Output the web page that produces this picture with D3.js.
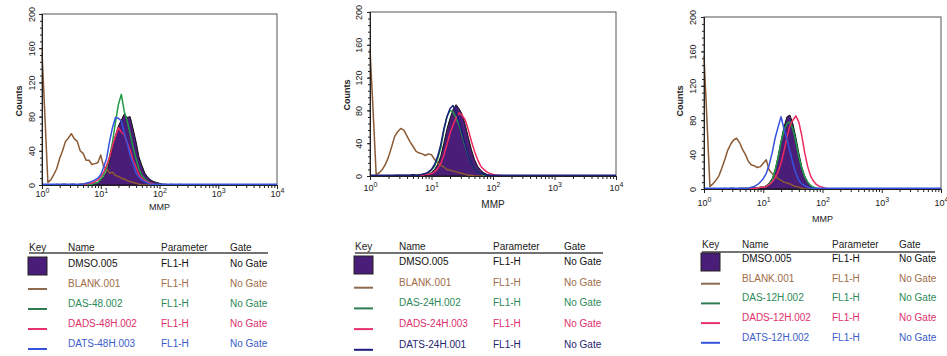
<!DOCTYPE html>
<meta charset="utf-8">
<html>

<head>
  <!-- D3 library -->
  <script src="https://d3js.org/d3.v7.min.js"></script>

  <style>
    body {
      margin: 0;
      background-color: #ffffff;
    }

    svg {
      font-family: 'Liberation Sans', Arial, sans-serif;
    }

    .axis path {
      stroke: #222;
      stroke-width: 1;
    }

    .axis line {
      stroke: #222;
      stroke-width: 1;
    }

    .axis text {
      fill: #222;
      font-size: 9px;
    }

    .legend text {
      font-size: 10px;
    }
  </style>
</head>

<body>
  <script>
    //Channels in decades (log10 of fluorescence), shared by all histograms
    var channels = [0.00, 0.05, 0.10, 0.15, 0.20, 0.25, 0.30, 0.35, 0.40, 0.45,
      0.50, 0.55, 0.60, 0.65, 0.70, 0.75, 0.80, 0.85, 0.90, 0.95,
      1.00, 1.05, 1.10, 1.15, 1.20, 1.25, 1.30, 1.35, 1.40, 1.45,
      1.50, 1.55, 1.60, 1.65, 1.70, 1.75, 1.80, 1.85, 1.90, 1.95,
      2.00, 2.05, 2.10, 2.15, 2.20, 2.25, 2.30, 2.35, 2.40, 2.45,
      2.50, 4.00];

    //Tick labels
    var xTicks = [1, 10, 100, 1000, 10000];
    var xExp = ["0", "1", "2", "3", "4"];
    var yTicks = [0, 40, 80, 120, 160, 200];

    //Legend text
    var legendHeaders = ["Key", "Name", "Parameter", "Gate"];
    var parameter = "FL1-H";
    var gate = "No Gate";
    var names48 = ["DMSO.005", "BLANK.001", "DAS-48.002", "DADS-48H.002", "DATS-48H.003"];
    var names24 = ["DMSO.005", "BLANK.001", "DAS-24H.002", "DADS-24H.003", "DATS-24H.001"];
    var names12 = ["DMSO.005", "BLANK.001", "DAS-12H.002", "DADS-12H.002", "DATS-12H.002"];

    //48H counts
    var dmso48 = [0, 0, 0, 0, 0, 1, 0, 1, 1, 0,
      1, 1, 0, 1, 1, 2, 1, 2, 2, 3,
      5, 9, 15, 28, 44, 58, 69, 76, 83, 79,
      80, 66, 51, 33, 23, 14, 9, 6, 4, 3,
      2, 1, 1, 0, 1, 0, 0, 1, 0, 0,
      0, 0];
    var blank48 = [155, 80, 3, 6, 12, 19, 31, 40, 51, 55,
      60, 54, 51, 40, 37, 29, 29, 24, 25, 26,
      35, 21, 19, 14, 15, 11, 10, 8, 7, 5,
      4, 3, 2, 1, 0, 0, 0, 0, 0, 0,
      0, 0, 0, 0, 0, 0, 0, 0, 0, 0,
      0, 0];
    var das48 = [0, 0, 0, 0, 0, 0, 0, 0, 0, 0,
      0, 0, 0, 0, 0, 1, 1, 1, 2, 3,
      7, 12, 20, 33, 50, 73, 94, 106, 86, 75,
      60, 44, 31, 19, 11, 7, 4, 2, 1, 0,
      0, 0, 0, 0, 0, 0, 0, 0, 0, 0,
      0, 0];
    var dads48 = [0, 0, 0, 0, 0, 0, 0, 0, 0, 0,
      0, 0, 0, 1, 1, 1, 2, 2, 4, 6,
      10, 15, 23, 32, 46, 57, 67, 62, 59, 49,
      41, 29, 21, 12, 8, 5, 3, 2, 1, 0,
      0, 0, 0, 0, 0, 0, 0, 0, 0, 0,
      0, 0];
    var dats48 = [1, 1, 1, 1, 1, 1, 1, 1, 1, 1,
      1, 1, 1, 1, 1, 2, 3, 4, 6, 8,
      12, 21, 31, 51, 67, 79, 78, 75, 61, 49,
      35, 25, 14, 9, 6, 4, 2, 1, 1, 1,
      1, 1, 1, 1, 1, 1, 1, 1, 1, 1,
      1, 1];

    //24H counts
    var dmso24 = [0, 0, 0, 0, 0, 0, 1, 0, 1, 1,
      1, 1, 1, 1, 2, 1, 2, 2, 3, 3,
      4, 8, 14, 24, 40, 57, 70, 81, 87, 82,
      75, 62, 47, 32, 20, 12, 7, 4, 2, 1,
      1, 0, 0, 0, 0, 0, 0, 0, 0, 0,
      0, 0];
    var blank24 = [155, 80, 2, 4, 8, 14, 23, 35, 48, 54,
      58, 56, 49, 42, 36, 30, 28, 27, 25, 27,
      26, 20, 16, 13, 11, 8, 7, 6, 5, 4,
      3, 2, 1, 1, 0, 0, 0, 0, 0, 0,
      0, 0, 0, 0, 0, 0, 0, 0, 0, 0,
      0, 0];
    var das24 = [0, 0, 0, 0, 0, 0, 0, 0, 0, 0,
      0, 0, 0, 0, 0, 1, 1, 2, 2, 4,
      7, 12, 21, 34, 55, 72, 80, 78, 71, 62,
      49, 36, 24, 15, 9, 5, 3, 1, 0, 0,
      0, 0, 0, 0, 0, 0, 0, 0, 0, 0,
      0, 0];
    var dads24 = [0, 0, 0, 0, 0, 0, 0, 0, 0, 0,
      0, 0, 0, 0, 0, 0, 1, 1, 2, 2,
      3, 5, 9, 15, 25, 38, 52, 62, 71, 77,
      74, 68, 56, 42, 30, 20, 12, 8, 5, 3,
      2, 1, 1, 0, 0, 0, 0, 0, 0, 0,
      0, 0];
    var dats24 = [1, 1, 1, 1, 1, 1, 1, 1, 1, 1,
      1, 1, 1, 1, 1, 1, 1, 2, 3, 5,
      8, 14, 24, 38, 57, 72, 82, 86, 78, 66,
      52, 38, 25, 15, 9, 5, 3, 2, 1, 1,
      1, 1, 1, 1, 1, 1, 1, 1, 1, 1,
      1, 1];

    //12H counts
    var dmso12 = [0, 0, 0, 0, 0, 0, 0, 1, 0, 1,
      1, 0, 1, 1, 1, 1, 1, 2, 1, 2,
      2, 4, 7, 12, 22, 38, 56, 72, 84, 86,
      76, 60, 42, 26, 15, 8, 4, 2, 1, 0,
      0, 0, 0, 0, 0, 0, 0, 0, 0, 0,
      0, 0];
    var blank12 = [155, 80, 3, 6, 10, 15, 24, 34, 45, 52,
      57, 59, 54, 46, 40, 32, 28, 27, 25, 26,
      30, 34, 22, 18, 15, 12, 10, 8, 7, 6,
      4, 3, 2, 1, 0, 0, 0, 0, 0, 0,
      0, 0, 0, 0, 0, 0, 0, 0, 0, 0,
      0, 0];
    var das12 = [0, 0, 0, 0, 0, 0, 0, 0, 0, 0,
      0, 0, 0, 0, 0, 0, 0, 1, 1, 2,
      2, 3, 6, 10, 22, 36, 55, 68, 76, 78,
      70, 55, 38, 24, 14, 8, 4, 2, 1, 0,
      0, 0, 0, 0, 0, 0, 0, 0, 0, 0,
      0, 0];
    var dads12 = [0, 0, 0, 0, 0, 0, 0, 0, 0, 0,
      0, 0, 0, 0, 0, 0, 1, 1, 1, 2,
      2, 3, 5, 8, 13, 20, 30, 44, 60, 74,
      80, 85, 78, 62, 42, 26, 15, 9, 5, 3,
      2, 1, 0, 0, 0, 0, 0, 0, 0, 0,
      0, 0];
    var dats12 = [1, 1, 1, 1, 1, 1, 1, 1, 1, 1,
      1, 1, 1, 1, 1, 1, 2, 3, 5, 8,
      12, 18, 28, 42, 59, 72, 84, 70, 58, 44,
      30, 18, 10, 6, 4, 2, 1, 1, 1, 1,
      1, 1, 1, 1, 1, 1, 1, 1, 1, 1,
      1, 1];

    //Colours: fill, brown, green, red, blue
    var fillColor = "#4a1e78";
    var lineColors = ["#111111", "#8b5a34", "#1f9a46", "#ee2a60", "#3552de"];
    var textColors = ["#111111", "#a06c48", "#2c8a58", "#e0306c", "#3a5cc8"];
    var keyColors = ["#111111", "#8e6a4e", "#2e7d52", "#e8306a", "#3555c8"];

    //Panel layout
    var panels = [
      {
        left: 42, right: 277, top: 14, bottom: 185, xLab: 12, mmpY: 210, mmpSize: 9,
        countsX: 22, countsY: 101, yLab: -7,
        series: [dmso48, blank48, das48, dads48, dats48], names: names48, blue: "#3552de", blueText: "#3a5cc8",
        lg: { key: 29, name: 68, param: 161, gate: 230, head: 251, rule: 253, ruleEnd: 268, row0: 267, step: 20, sq: 257 }
      },
      {
        left: 370, right: 616, top: 12, bottom: 176, xLab: 15, mmpY: 208, mmpSize: 10,
        countsX: 350, countsY: 95, yLab: -8,
        series: [dmso24, blank24, das24, dads24, dats24], names: names24, blue: "#1c1c7a", blueText: "#25256e",
        lg: { key: 355, name: 399, param: 493, gate: 564, head: 250, rule: 253, ruleEnd: 603, row0: 265, step: 20.7, sq: 256 }
      },
      {
        left: 704, right: 941, top: 17, bottom: 189, xLab: 17, mmpY: 222, mmpSize: 9,
        countsX: 683, countsY: 101, yLab: -8,
        series: [dmso12, blank12, das12, dads12, dats12], names: names12, blue: "#3552de", blueText: "#3a5cc8",
        lg: { key: 702, name: 742, param: 832, gate: 899, head: 248, rule: 252, ruleEnd: 935, row0: 262, step: 19.7, sq: 253 }
      }
    ];

    //Container
    var svg = d3.select("body")
      .append("svg")
      .attr("width", 947)
      .attr("height", 356);

    //Minor log ticks
    var minorX = [];
    xTicks.slice(0, 4).forEach(function (t) {
      for (var k = 2; k < 10; k++) minorX.push(t * k);
    });

    function drawPanel(p) {
      var g = svg.append("g");

      var x = d3.scaleLog()
        .domain([1, 10000])
        .range([p.left, p.right]);

      var y = d3.scaleLinear()
        .domain([0, 200])
        .range([p.bottom, p.top]);

      //Frame
      g.append("rect")
        .attr("x", p.left)
        .attr("y", p.top)
        .attr("width", p.right - p.left)
        .attr("height", p.bottom - p.top)
        .attr("fill", "none")
        .attr("stroke", "#555")
        .attr("stroke-width", 1);

      var lineGen = d3.line()
        .x((d, i) => x(Math.pow(10, channels[i])))
        .y(d => y(d));

      //DMSO filled histogram
      g.append("path")
        .attr("d", d3.area()
          .x((d, i) => x(Math.pow(10, channels[i])))
          .y0(y(0))
          .y1(d => y(d))(p.series[0]))
        .attr("fill", fillColor)
        .attr("stroke", lineColors[0])
        .attr("stroke-width", 1);

      //Overlay histograms
      var colors = [lineColors[0], lineColors[1], lineColors[2], lineColors[3], p.blue];
      for (var s = 1; s < 5; s++) {
        g.append("path")
          .attr("d", lineGen(p.series[s]))
          .attr("fill", "none")
          .attr("stroke", colors[s])
          .attr("stroke-width", 1.5)
          .attr("stroke-linejoin", "round");
      }

      //X axis (minor)
      g.append("g")
        .attr("class", "axis")
        .attr("transform", `translate(0, ${p.bottom})`)
        .call(d3.axisBottom(x)
          .tickValues(minorX)
          .tickSize(3)
          .tickFormat(""));

      //X axis (major)
      var xa = g.append("g")
        .attr("class", "axis")
        .attr("transform", `translate(0, ${p.bottom})`)
        .call(d3.axisBottom(x)
          .tickValues(xTicks)
          .tickSize(4)
          .tickFormat(""));

      xa.selectAll(".tick text").remove();
      xa.selectAll(".tick").each(function (d, i) {
        var t = d3.select(this).append("text")
          .attr("y", p.xLab)
          .attr("text-anchor", "middle")
          .attr("fill", "#222");
        t.append("tspan").text("10");
        t.append("tspan")
          .attr("dy", -4)
          .attr("font-size", "7px")
          .text(xExp[i]);
      });

      //Y axis (minor)
      g.append("g")
        .attr("class", "axis")
        .attr("transform", `translate(${p.left}, 0)`)
        .call(d3.axisLeft(y)
          .tickValues(d3.range(0, 201, 8))
          .tickSize(2)
          .tickFormat(""));

      //Y axis (major)
      var ya = g.append("g")
        .attr("class", "axis")
        .attr("transform", `translate(${p.left}, 0)`)
        .call(d3.axisLeft(y)
          .tickValues(yTicks)
          .tickSize(3));

      ya.selectAll(".tick text")
        .attr("x", 0)
        .attr("dy", 0)
        .attr("text-anchor", "middle")
        .attr("transform", `translate(${p.yLab}, 0) rotate(-90)`);

      //Axis titles
      g.append("text")
        .attr("x", (p.left + p.right) / 2)
        .attr("y", p.mmpY)
        .attr("text-anchor", "middle")
        .attr("font-size", p.mmpSize + "px")
        .attr("fill", "#222")
        .text("MMP");

      g.append("text")
        .attr("transform", `translate(${p.countsX}, ${p.countsY}) rotate(-90)`)
        .attr("text-anchor", "middle")
        .attr("font-size", "9px")
        .attr("font-weight", "bold")
        .attr("fill", "#222")
        .text("Counts");

      //Legend
      var lg = g.append("g").attr("class", "legend");
      var cols = [p.lg.key, p.lg.name, p.lg.param, p.lg.gate];
      legendHeaders.forEach(function (h, i) {
        lg.append("text")
          .attr("x", cols[i])
          .attr("y", p.lg.head)
          .attr("fill", "#222")
          .text(h);
      });

      lg.append("line")
        .attr("x1", p.lg.key)
        .attr("x2", p.lg.ruleEnd)
        .attr("y1", p.lg.rule)
        .attr("y2", p.lg.rule)
        .attr("stroke", "#444")
        .attr("stroke-width", 1.5);

      var tColors = [textColors[0], textColors[1], textColors[2], textColors[3], p.blueText];
      var kColors = [keyColors[0], keyColors[1], keyColors[2], keyColors[3], p.blue];
      p.names.forEach(function (n, i) {
        var yy = p.lg.row0 + i * p.lg.step;
        if (i === 0) {
          lg.append("rect")
            .attr("x", p.lg.key - 1)
            .attr("y", p.lg.sq)
            .attr("width", 19)
            .attr("height", 18)
            .attr("fill", fillColor)
            .attr("stroke", "#222")
            .attr("stroke-width", 1);
        } else {
          lg.append("line")
            .attr("x1", p.lg.key - 1)
            .attr("x2", p.lg.key + 18)
            .attr("y1", yy + 2)
            .attr("y2", yy + 2)
            .attr("stroke", kColors[i])
            .attr("stroke-width", 2);
        }
        [n, parameter, gate].forEach(function (v, j) {
          lg.append("text")
            .attr("x", cols[j + 1])
            .attr("y", yy)
            .attr("fill", tColors[i])
            .text(v);
        });
      });
    }

    panels.forEach(drawPanel);
  </script>
</body>

</html>
